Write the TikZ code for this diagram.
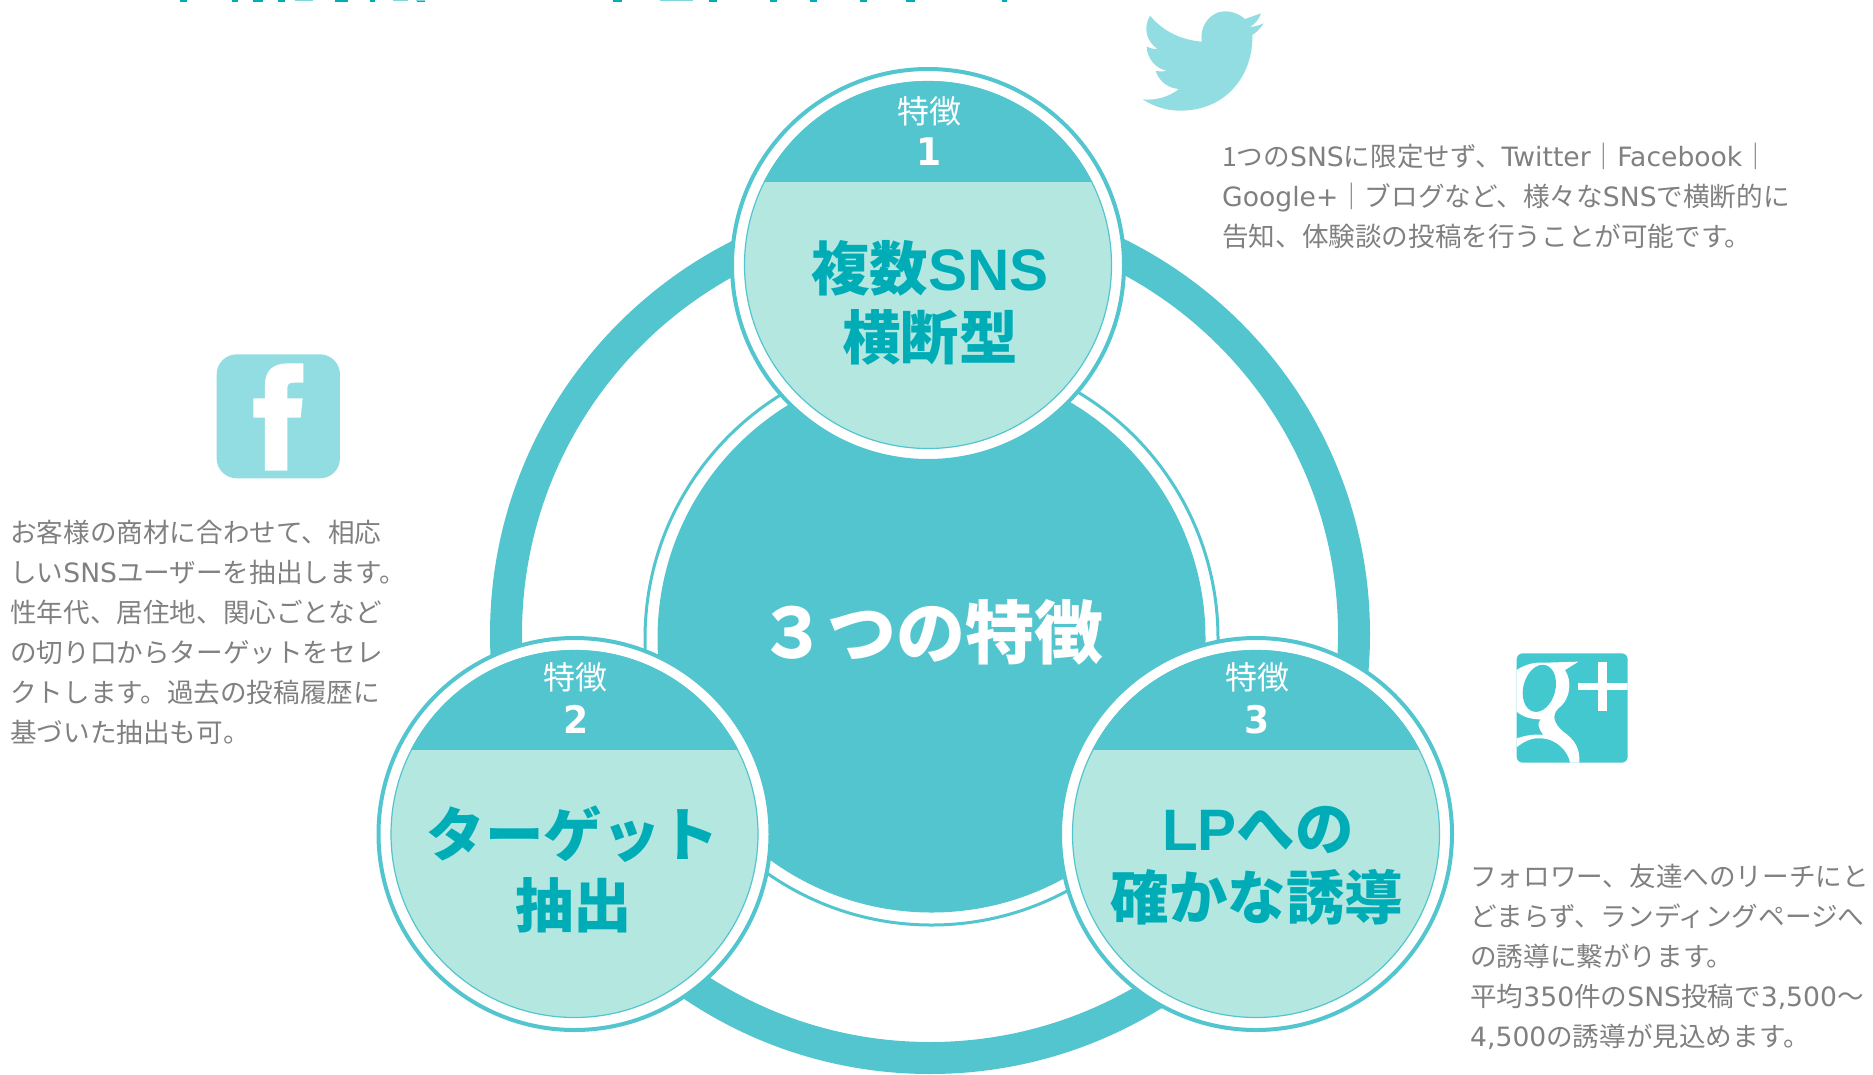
\documentclass[tikz,border=0pt]{standalone}
\usepackage{fontspec}
\setmainfont{Noto Sans CJK JP}
\newfontfamily\latn{DejaVu Sans}
\newfontfamily\latd[FakeStretch=0.95]{DejaVu Sans}
\newfontfamily\latb{Liberation Sans}
\newcommand{\fsz}[2]{\fontsize{#1}{#2}\selectfont}
\definecolor{ringc}{HTML}{52C5CF}
\definecolor{palec}{HTML}{B5E7E1}
\definecolor{headc}{HTML}{00ADB7}
\definecolor{greyt}{HTML}{808080}
\definecolor{iconl}{HTML}{92DDE1}
\definecolor{iconm}{HTML}{43C8D0}
\tikzset{
 outerc/.style={circle,draw=ringc,line width=4pt,fill=white,minimum size=392pt,inner sep=0pt},
 innerc/.style={circle,draw=ringc,line width=1.2pt,fill=palec,minimum size=367pt,inner sep=0pt},
 tok/.style={text=white,font=\fsz{32}{38},inner sep=0pt,anchor=base},
 num/.style={text=white,font=\latd\bfseries\fsz{38}{38},inner sep=0pt,anchor=base},
 head/.style={text=headc,font=\bfseries\fsz{58.5}{60},inner sep=0pt,anchor=base},
 body/.style={text=greyt,font=\fsz{26.6}{40},inner sep=0pt,anchor=north west,align=left},
 frag/.style={fill=headc},
 fragl/.style={fill=headc!50},
}
\newcommand{\feature}[6]{%
 \node[outerc] (#1o) at (#2,#3) {};
 \node[innerc] (#1i) at (#2,#3) {};
 \begin{scope}
  \clip (#2-200,#3-200) rectangle (#2+200,#4);
  \fill[ringc] (#2,#3) circle[radius=184];
 \end{scope}
 \node[tok] (#1t) at (#2+1,#5) {特徴};
 \node[num] (#1n) at (#2+1.5,#6) {\ifcase#1\or1\or2\or3\fi};
}
\begin{document}
\begin{tikzpicture}[x=1pt,y=-1pt]
\useasboundingbox (0,0) rectangle (1873,1074);
% clipped title remains
\foreach \a/\b in {180/187,232/238,253/263,278/285,335/348,370/375,417/425,613/622,709/717,770/777,810/817,860/867,906/915,1002/1007}
  \fill[frag] (\a,0) rectangle (\b,1.5);
\foreach \a/\b in {295/313,393/408,416/425,660/693}
  \fill[fragl] (\a,0) rectangle (\b,1);
% big ring
\draw[ringc,line width=32pt] (930,634) circle[radius=424];
\draw[ringc,line width=3pt] (931.5,638.5) circle[radius=286.5];
\node[circle,fill=ringc,minimum size=548pt,inner sep=0pt] (core) at (931.5,638.5) {};
\node[text=white,font=\bfseries\fsz{69}{68},inner sep=0pt,anchor=base] (coret) at (931,658) {３つの特徴};
% feature circles
\feature{1}{928}{265}{181}{123}{165}
\feature{2}{574.5}{834}{749}{689}{733}
\feature{3}{1256}{834}{749}{689}{733}
\node[head] (h1a) at (930,290) {複数{\latb\bfseries SNS}};
\node[head] (h1b) at (930,359) {横断型};
\node[head] (h2a) at (573,856) {ターゲット};
\node[head] (h2b) at (573.5,927) {抽出};
\node[head] (h3a) at (1258,850) {{\latb\bfseries LP}への};
\node[head] (h3b) at (1257,919) {確かな誘導};
% texts
\node[body] (t1) at (1222,143) {1つの{\latn SNS}に限定せず、{\latn Twitter}｜{\latn Facebook}｜\\{\latn Google+}｜ブログなど、様々な{\latn SNS}で横断的に\\告知、体験談の投稿を行うことが可能です。};
\node[body] (t2) at (10,520) {お客様の商材に合わせて、相応\\しい{\latn SNS}ユーザーを抽出します。\\性年代、居住地、関心ごとなど\\の切り口からターゲットをセレ\\クトします。過去の投稿履歴に\\基づいた抽出も可。};
\node[body] (t3) at (1470,864) {フォロワー、友達へのリーチにと\\どまらず、ランディングページへ\\の誘導に繋がります。\\平均{\latn 350}件の{\latn SNS}投稿で{\latn 3,500}〜\\{\latn 4,500}の誘導が見込めます。};
% twitter
\begin{scope}[shift={(1120,0)},x=0.3333pt,y=-0.3333pt]
\fill[iconl] (423,40) -- (375,57) .. controls (350,35) and (320,30) .. (295,37) .. controls (260,50) and (240,85) .. (245,125) .. controls (185,120) and (130,95) .. (90,47) .. controls (68,85) and (80,125) .. (113,147) .. controls (100,147) and (90,145) .. (80,140) .. controls (82,175) and (105,205) .. (140,212) .. controls (128,215) and (118,215) .. (107,213) .. controls (118,245) and (145,265) .. (177,267) .. controls (145,292) and (105,302) .. (68,298) .. controls (105,322) and (145,333) .. (185,332) .. controls (320,330) and (400,225) .. (397,105) .. controls (412,95) and (423,83) .. (431,70) .. controls (418,76) and (404,80) .. (390,81) .. controls (405,72) and (417,58) .. (423,40) -- cycle;
\end{scope}
% facebook
\begin{scope}[shift={(190,340)},x=0.3333pt,y=-0.3333pt]
\fill[iconl,rounded corners=20pt] (80,43) rectangle (450,415);
\fill[white] (225,392) -- (225,233) -- (190,233) -- (190,175) -- (225,175) -- (225,135) .. controls (225,90) and (250,70) .. (295,70) -- (340,70) -- (340,128) -- (310,128) .. controls (297,128) and (292,133) .. (292,145) -- (292,175) -- (338,175) -- (332,233) -- (292,233) -- (292,392) -- cycle;
\end{scope}
% google plus
\begin{scope}[shift={(1500,640)},x=0.3333pt,y=-0.3333pt]
\fill[iconm,rounded corners=6pt] (50,40) rectangle (383,368);
\begin{scope}
\clip (50,40) rectangle (383,368);
\fill[white] (295,65) rectangle (322,212);
\fill[white] (235,128) rectangle (383,150);
\fill[white] (50,90) .. controls (80,70) and (110,66) .. (135,68) -- (235,65) -- (195,90) .. controls (215,120) and (215,175) .. (175,205) .. controls (155,225) and (160,250) .. (190,275) .. controls (225,300) and (240,325) .. (238,368) -- (210,368) .. controls (205,335) and (170,295) .. (120,295) .. controls (95,293) and (70,305) .. (50,322) -- (50,295) .. controls (80,285) and (105,282) .. (130,285) .. controls (115,265) and (110,250) .. (122,238) .. controls (95,238) and (70,232) .. (50,215) -- cycle;
\fill[iconm,rotate around={-15:(118,145)}] (118,145) ellipse[x radius=48,y radius=72];
\end{scope}
\end{scope}
\end{tikzpicture}
\end{document}
